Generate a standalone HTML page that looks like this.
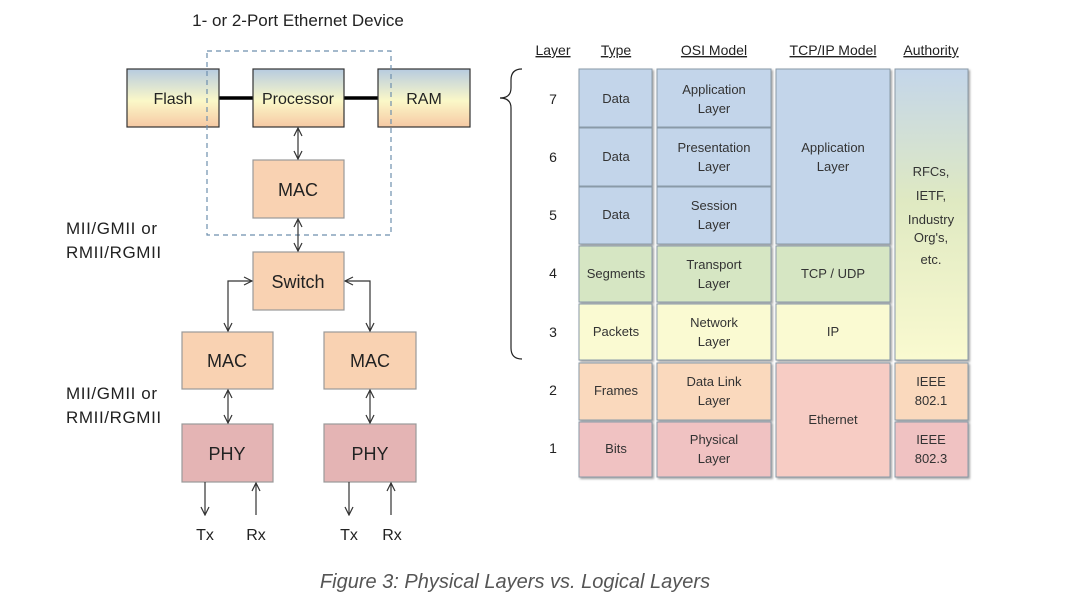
<!DOCTYPE html>
<html><head><meta charset="utf-8"><style>
body{margin:0;background:#fff;}
svg text{font-family:"Liberation Sans",sans-serif;}
</style></head><body>
<svg width="1089" height="602" viewBox="0 0 1089 602" xmlns="http://www.w3.org/2000/svg">
<defs>
<linearGradient id="g1" x1="0" y1="0" x2="0" y2="1">
<stop offset="0" stop-color="#b7cbe0"/><stop offset="0.55" stop-color="#fbf8c8"/><stop offset="1" stop-color="#f6c9a4"/></linearGradient>
<linearGradient id="auth" x1="0" y1="0" x2="0" y2="1">
<stop offset="0" stop-color="#c4d6ea"/><stop offset="0.45" stop-color="#dfe9c2"/><stop offset="1" stop-color="#fafad0"/></linearGradient>
<marker id="a" markerWidth="10" markerHeight="10" refX="9" refY="5" orient="auto-start-reverse" markerUnits="userSpaceOnUse"><path d="M1,1 L9,5 L1,9" fill="none" stroke="#333" stroke-width="1.2"/></marker>
<filter id="sh"><feDropShadow dx="1.5" dy="1.5" stdDeviation="1" flood-color="#666" flood-opacity="0.6"/></filter>
</defs>
<text x="298" y="26" font-size="17" text-anchor="middle" fill="#222">1- or 2-Port Ethernet Device</text>
<line x1="219" y1="98" x2="253" y2="98" stroke="#000" stroke-width="3.5"/>
<line x1="344" y1="98" x2="378" y2="98" stroke="#000" stroke-width="3.5"/>
<g stroke="#333" stroke-width="1.2">
<rect x="127" y="69" width="92" height="58" fill="url(#g1)"/>
<rect x="253" y="69" width="91" height="58" fill="url(#g1)"/>
<rect x="378" y="69" width="92" height="58" fill="url(#g1)"/>
<rect x="253" y="160" width="91" height="58" fill="#f9d2b2" stroke="#999"/>
<rect x="253" y="252" width="91" height="58" fill="#f9d2b2" stroke="#999"/>
<rect x="182" y="332" width="91" height="57" fill="#f9d2b2" stroke="#999"/>
<rect x="324" y="332" width="92" height="57" fill="#f9d2b2" stroke="#999"/>
<rect x="182" y="424" width="91" height="58" fill="#e4b4b4" stroke="#999"/>
<rect x="324" y="424" width="92" height="58" fill="#e4b4b4" stroke="#999"/>
</g>
<rect x="207" y="51" width="184" height="184" fill="none" stroke="#6d8fae" stroke-width="1.2" stroke-dasharray="5,4"/>
<g font-size="16" text-anchor="middle" fill="#222">
<text x="173" y="104">Flash</text><text x="298" y="104">Processor</text><text x="424" y="104">RAM</text>
<text x="298" y="196" font-size="18">MAC</text><text x="298" y="288" font-size="18">Switch</text>
<text x="227" y="367" font-size="18">MAC</text><text x="370" y="367" font-size="18">MAC</text>
<text x="227" y="460" font-size="18">PHY</text><text x="370" y="460" font-size="18">PHY</text>
<text x="205" y="540">Tx</text><text x="256" y="540">Rx</text>
<text x="349" y="540">Tx</text><text x="392" y="540">Rx</text>
</g>
<g stroke="#333" stroke-width="1.2" fill="none">
<line x1="298" y1="128" x2="298" y2="159" marker-start="url(#a)" marker-end="url(#a)"/>
<line x1="298" y1="219" x2="298" y2="251" marker-start="url(#a)" marker-end="url(#a)"/>
<path d="M252,281 H228 V331" marker-start="url(#a)" marker-end="url(#a)"/>
<path d="M345,281 H370 V331" marker-start="url(#a)" marker-end="url(#a)"/>
<line x1="228" y1="390" x2="228" y2="423" marker-start="url(#a)" marker-end="url(#a)"/>
<line x1="370" y1="390" x2="370" y2="423" marker-start="url(#a)" marker-end="url(#a)"/>
<line x1="205" y1="482" x2="205" y2="515" marker-end="url(#a)"/>
<line x1="256" y1="515" x2="256" y2="483" marker-end="url(#a)"/>
<line x1="349" y1="482" x2="349" y2="515" marker-end="url(#a)"/>
<line x1="391" y1="515" x2="391" y2="483" marker-end="url(#a)"/>
<path d="M522,69 Q511,69 511,80 V88 Q511,98 500,98 Q511,98 511,108 V348 Q511,359 522,359" stroke="#222"/>
</g>
<g font-size="17" fill="#222" letter-spacing="0.6">
<text x="66" y="234">MII/GMII or</text><text x="66" y="258">RMII/RGMII</text>
<text x="66" y="399">MII/GMII or</text><text x="66" y="423">RMII/RGMII</text>
</g>
<g font-size="14" fill="#222" text-anchor="middle" text-decoration="underline">
<text x="553" y="55">Layer</text><text x="616" y="55">Type</text><text x="714" y="55">OSI Model</text>
<text x="833" y="55">TCP/IP Model</text><text x="931" y="55">Authority</text>
</g>
<g font-size="14" fill="#222" text-anchor="middle">
<text x="553" y="104">7</text><text x="553" y="162">6</text><text x="553" y="220">5</text>
<text x="553" y="278">4</text><text x="553" y="337">3</text><text x="553" y="395">2</text><text x="553" y="453">1</text>
</g>
<g filter="url(#sh)" stroke="#8a9aa8" stroke-width="1">
<rect x="579" y="69" width="73" height="58" fill="#c3d5ea"/>
<rect x="579" y="128" width="73" height="58" fill="#c3d5ea"/>
<rect x="579" y="187" width="73" height="57" fill="#c3d5ea"/>
<rect x="579" y="246" width="73" height="56" fill="#d6e6c3"/>
<rect x="579" y="304" width="73" height="56" fill="#fafad2"/>
<rect x="579" y="363" width="73" height="57" fill="#fad9bd"/>
<rect x="579" y="422" width="73" height="55" fill="#f0c2c2"/>
<rect x="657" y="69" width="114" height="58" fill="#c3d5ea"/>
<rect x="657" y="128" width="114" height="58" fill="#c3d5ea"/>
<rect x="657" y="187" width="114" height="57" fill="#c3d5ea"/>
<rect x="657" y="246" width="114" height="56" fill="#d6e6c3"/>
<rect x="657" y="304" width="114" height="56" fill="#fafad2"/>
<rect x="657" y="363" width="114" height="57" fill="#fad9bd"/>
<rect x="657" y="422" width="114" height="55" fill="#f0c2c2"/>
<rect x="776" y="69" width="114" height="175" fill="#c3d5ea"/>
<rect x="776" y="246" width="114" height="56" fill="#d6e6c3"/>
<rect x="776" y="304" width="114" height="56" fill="#fafad2"/>
<rect x="776" y="363" width="114" height="114" fill="#f7ccc4"/>
<rect x="895" y="69" width="73" height="291" fill="url(#auth)"/>
<rect x="895" y="363" width="73" height="57" fill="#fad9bd"/>
<rect x="895" y="422" width="73" height="55" fill="#f0c2c2"/>
</g>
<g font-size="13" fill="#333" text-anchor="middle">
<text x="616" y="103">Data</text><text x="616" y="161">Data</text><text x="616" y="219">Data</text>
<text x="616" y="278">Segments</text><text x="616" y="336">Packets</text><text x="616" y="395">Frames</text><text x="616" y="453">Bits</text>
<text x="714" y="94">Application</text><text x="714" y="113">Layer</text>
<text x="714" y="152">Presentation</text><text x="714" y="171">Layer</text>
<text x="714" y="210">Session</text><text x="714" y="229">Layer</text>
<text x="714" y="269">Transport</text><text x="714" y="288">Layer</text>
<text x="714" y="327">Network</text><text x="714" y="346">Layer</text>
<text x="714" y="386">Data Link</text><text x="714" y="405">Layer</text>
<text x="714" y="444">Physical</text><text x="714" y="463">Layer</text>
<text x="833" y="152">Application</text><text x="833" y="171">Layer</text>
<text x="833" y="278">TCP / UDP</text><text x="833" y="336">IP</text><text x="833" y="424">Ethernet</text>
<text x="931" y="176">RFCs,</text><text x="931" y="200">IETF,</text><text x="931" y="224">Industry</text><text x="931" y="242">Org's,</text><text x="931" y="264">etc.</text>
<text x="931" y="386">IEEE</text><text x="931" y="405">802.1</text>
<text x="931" y="444">IEEE</text><text x="931" y="463">802.3</text>
</g>
<text x="515" y="588" font-size="20" font-style="italic" fill="#555" text-anchor="middle">Figure 3: Physical Layers vs. Logical Layers</text>
</svg>
</body></html>
